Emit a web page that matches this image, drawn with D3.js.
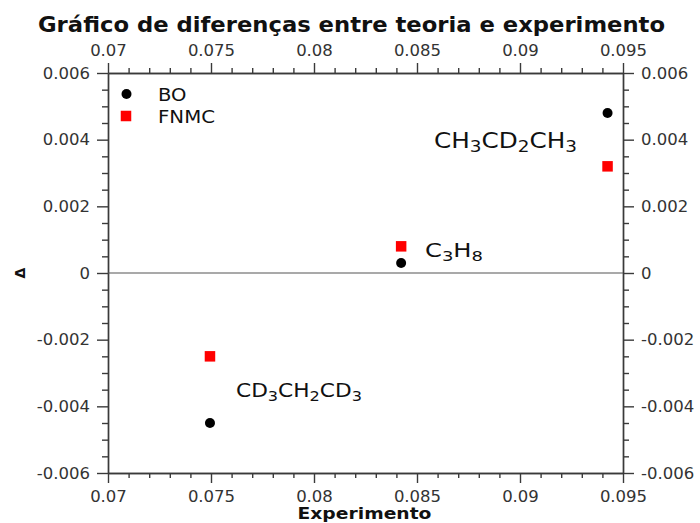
<!DOCTYPE html>
<html>
<head>
<meta charset="utf-8">
<script src="https://cdn.jsdelivr.net/npm/d3@7"></script>
<style>
  html, body { margin: 0; padding: 0; background: #fff; }
  svg { display: block; font-family: "DejaVu Sans", sans-serif; }
</style>
</head>
<body>
<svg id="chart" width="700" height="523"></svg>
<script>
// Experimental values (x) and theory - experiment differences (Δ)
const molecules = ["CD3CH2CD3", "C3H8", "CH3CD2CH3"];
const experimento = [0.07495, 0.08423, 0.09425];
const deltaBO = [-0.0045, 0.0003, 0.0048];
const deltaFNMC = [-0.0025, 0.0008, 0.0032];
const seriesNames = ["BO", "FNMC"];

const xTickValues = [0.07, 0.075, 0.08, 0.085, 0.09, 0.095];
const xTickLabels = ["0.07", "0.075", "0.08", "0.085", "0.09", "0.095"];
const yTickValues = [-0.006, -0.004, -0.002, 0, 0.002, 0.004, 0.006];
const yTickLabels = ["-0.006", "-0.004", "-0.002", "0", "0.002", "0.004", "0.006"];

// Formula labels split into [text, isSubscript] parts
const moleculeParts = [
  [["CD", false], ["3", true], ["CH", false], ["2", true], ["CD", false], ["3", true]],
  [["C", false], ["3", true], ["H", false], ["8", true]],
  [["CH", false], ["3", true], ["CD", false], ["2", true], ["CH", false], ["3", true]]
];

(function draw() {
  const svg = d3.select("#chart");
  const pLeft = 108, pRight = 623, pTop = 73, pBottom = 473;

  const x = d3.scaleLinear().domain([0.07, 0.095]).range([pLeft, pRight]);
  const y = d3.scaleLinear().domain([-0.006, 0.006]).range([pBottom, pTop]);

  const axisColor = "#3a3a3a";
  const textColor = "#333";

  const xMinor = d3.range(0.07, 0.0951, 0.001).filter(v => !xTickValues.some(t => Math.abs(t - v) < 1e-9));
  const yMinor = d3.range(-0.006, 0.00601, 0.0005).filter(v => !yTickValues.some(t => Math.abs(t - v) < 1e-9));

  function styleAxis(g) {
    g.select(".domain").attr("stroke", axisColor).attr("stroke-width", 1.4);
    g.selectAll(".tick line").attr("stroke", axisColor).attr("stroke-width", 1.4);
    g.selectAll(".tick text").attr("fill", textColor)
      .style("font-family", "DejaVu Sans, sans-serif").style("font-size", "16.5px");
  }

  // Minor ticks (no labels)
  svg.append("g").attr("transform", `translate(0,${pBottom})`)
    .call(d3.axisBottom(x).tickValues(xMinor).tickSize(5).tickSizeOuter(0).tickFormat(""))
    .call(styleAxis);
  svg.append("g").attr("transform", `translate(0,${pTop})`)
    .call(d3.axisTop(x).tickValues(xMinor).tickSize(5).tickSizeOuter(0).tickFormat(""))
    .call(styleAxis);
  svg.append("g").attr("transform", `translate(${pLeft},0)`)
    .call(d3.axisLeft(y).tickValues(yMinor).tickSize(6).tickSizeOuter(0).tickFormat(""))
    .call(styleAxis);
  svg.append("g").attr("transform", `translate(${pRight},0)`)
    .call(d3.axisRight(y).tickValues(yMinor).tickSize(6).tickSizeOuter(0).tickFormat(""))
    .call(styleAxis);

  // Major ticks with labels
  svg.append("g").attr("transform", `translate(0,${pBottom})`)
    .call(d3.axisBottom(x).tickValues(xTickValues).tickSize(10).tickSizeOuter(0).tickPadding(7)
      .tickFormat((d, i) => xTickLabels[i]))
    .call(styleAxis);
  svg.append("g").attr("transform", `translate(0,${pTop})`)
    .call(d3.axisTop(x).tickValues(xTickValues).tickSize(10).tickSizeOuter(0).tickPadding(7)
      .tickFormat((d, i) => xTickLabels[i]))
    .call(styleAxis);
  svg.append("g").attr("transform", `translate(${pLeft},0)`)
    .call(d3.axisLeft(y).tickValues(yTickValues).tickSize(11).tickSizeOuter(0).tickPadding(7)
      .tickFormat((d, i) => yTickLabels[i]))
    .call(styleAxis);
  svg.append("g").attr("transform", `translate(${pRight},0)`)
    .call(d3.axisRight(y).tickValues(yTickValues).tickSize(11).tickSizeOuter(0).tickPadding(7)
      .tickFormat((d, i) => yTickLabels[i]))
    .call(styleAxis);

  // Zero reference line
  svg.append("line")
    .attr("x1", pLeft).attr("x2", pRight)
    .attr("y1", y(0)).attr("y2", y(0))
    .attr("stroke", "#555").attr("stroke-width", 1.2);

  // Title and axis labels
  svg.append("text")
    .attr("x", 351.5).attr("y", 31.5)
    .attr("text-anchor", "middle")
    .attr("textLength", 627).attr("lengthAdjust", "spacingAndGlyphs")
    .style("font-weight", "bold").style("font-size", "22px")
    .attr("fill", "#111")
    .text("Gráfico de diferenças entre teoria e experimento");

  svg.append("text")
    .attr("x", 364.5).attr("y", 519)
    .attr("text-anchor", "middle")
    .attr("textLength", 134).attr("lengthAdjust", "spacingAndGlyphs")
    .style("font-weight", "bold").style("font-size", "15px")
    .attr("fill", "#111")
    .text("Experimento");

  svg.append("text")
    .attr("transform", `translate(25,${y(0)}) rotate(-90)`)
    .attr("text-anchor", "middle")
    .style("font-weight", "bold").style("font-size", "14px")
    .attr("fill", "#111")
    .text("Δ");

  // Data markers
  const sq = 10.5;
  svg.append("g").selectAll("rect")
    .data(experimento)
    .join("rect")
    .attr("x", (d) => x(d) - sq / 2)
    .attr("y", (d, i) => y(deltaFNMC[i]) - sq / 2)
    .attr("width", sq).attr("height", sq)
    .attr("fill", "#ff0000");

  svg.append("g").selectAll("circle")
    .data(experimento)
    .join("circle")
    .attr("cx", (d) => x(d))
    .attr("cy", (d, i) => y(deltaBO[i]))
    .attr("r", 5)
    .attr("fill", "#000");

  // Molecule labels: left edge, baseline, font sizes, total width
  const labelStyle = [
    { x: 236, y: 397, size: 19.5, sub: 14.5, w: 126 },
    { x: 425, y: 256.5, size: 19.5, sub: 14.5, w: 58 },
    { x: 434, y: 148, size: 21.5, sub: 16, w: 143 }
  ];
  molecules.forEach((name, i) => {
    const st = labelStyle[i];
    const t = svg.append("text")
      .attr("x", st.x)
      .attr("y", st.y)
      .attr("textLength", st.w).attr("lengthAdjust", "spacingAndGlyphs")
      .style("font-size", st.size + "px")
      .attr("fill", "#111");
    moleculeParts[i].forEach(([s, sub], j) => {
      t.append("tspan")
        .attr("dy", sub ? 4 : (j > 0 ? -4 : 0))
        .style("font-size", (sub ? st.sub : st.size) + "px")
        .text(s);
    });
  });

  // Legend
  const legend = svg.append("g");
  legend.append("circle").attr("cx", 126.5).attr("cy", 94).attr("r", 5).attr("fill", "#000");
  legend.append("rect").attr("x", 126 - sq / 2).attr("y", 116 - sq / 2)
    .attr("width", sq).attr("height", sq).attr("fill", "#ff0000");
  const legendWidths = [28.5, 57];
  legend.selectAll("text.leg")
    .data(seriesNames)
    .join("text")
    .attr("class", "leg")
    .attr("x", 158)
    .attr("y", (d, i) => 100.7 + i * 22.6)
    .attr("textLength", (d, i) => legendWidths[i]).attr("lengthAdjust", "spacingAndGlyphs")
    .style("font-size", "17px")
    .attr("fill", "#111")
    .text(d => d);
})();
</script>
</body>
</html>
